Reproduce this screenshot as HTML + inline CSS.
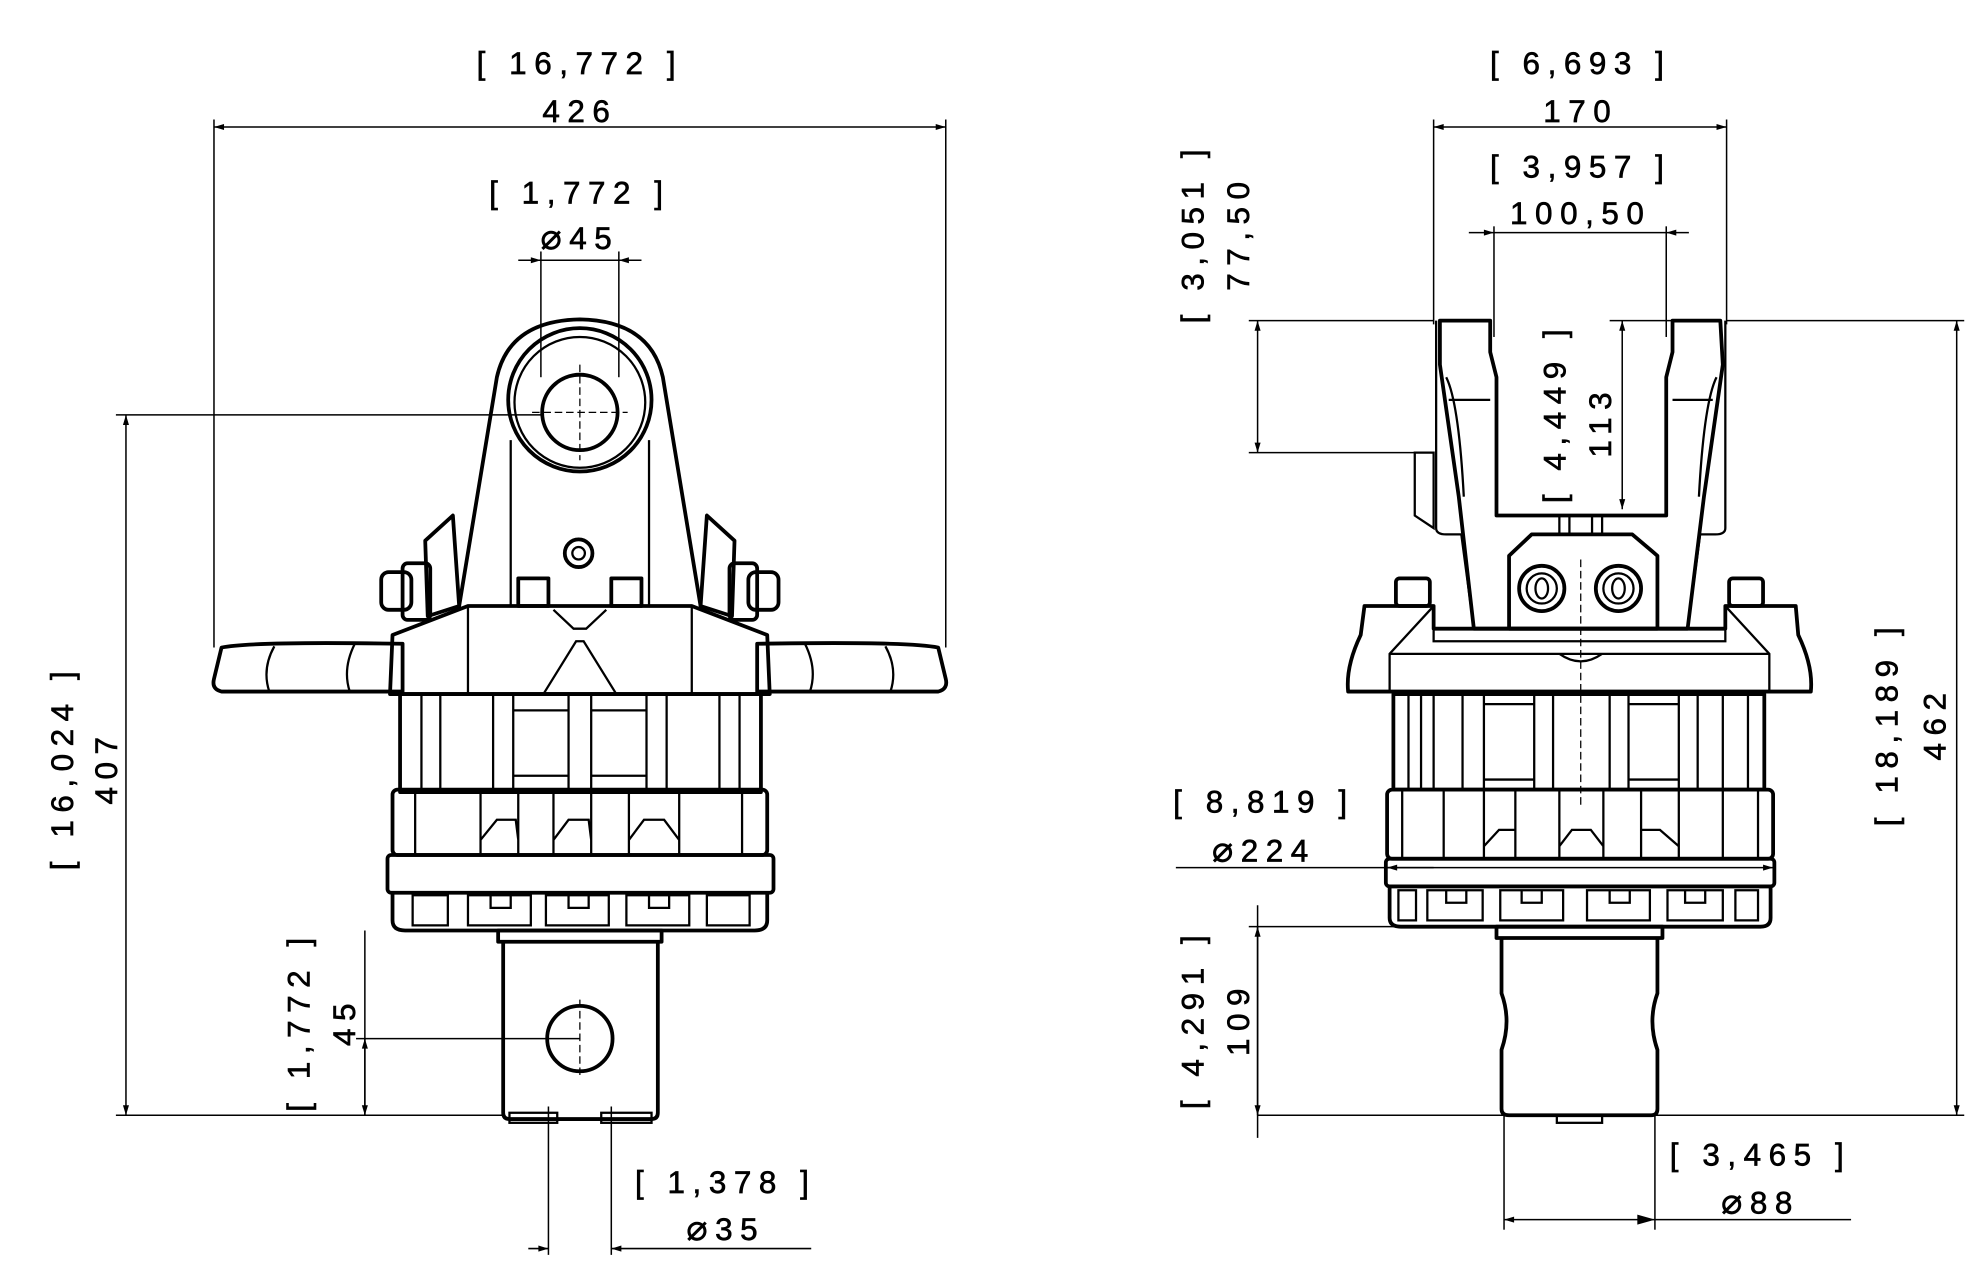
<!DOCTYPE html>
<html><head><meta charset="utf-8"><style>
html,body{margin:0;padding:0;background:#fff}
svg{display:block}
text{font-family:"Liberation Sans",sans-serif;font-size:25px;letter-spacing:6px;fill:#000;stroke:#000;stroke-width:0.5}
.dm{font-family:"DejaVu Sans",sans-serif;font-size:28px}
.o{fill:none;stroke:#000;stroke-width:3;stroke-linejoin:round}
.t{fill:none;stroke:#000;stroke-width:1.8}
.d{fill:none;stroke:#000;stroke-width:1.2}
.c{fill:none;stroke:#000;stroke-width:1;stroke-dasharray:6 3}
</style></head><body>
<svg width="1972" height="1280" viewBox="0 0 1568 1018" xmlns="http://www.w3.org/2000/svg">
<defs><marker id="a" viewBox="0 0 10 10" refX="10" refY="5" markerWidth="14" markerHeight="8" orient="auto-start-reverse" markerUnits="userSpaceOnUse"><path d="M0,2 L10,5 L0,8z" fill="#000"/></marker></defs>

<!-- ===== LEFT VIEW dims ===== -->
<text x="461" y="59" text-anchor="middle">[ 16,772 ]</text>
<text x="461" y="97" text-anchor="middle">426</text>
<line class="d" x1="170" y1="101" x2="752" y2="101" marker-start="url(#a)" marker-end="url(#a)"/>
<line class="d" x1="170" y1="95" x2="170" y2="515"/><line class="d" x1="752" y1="95" x2="752" y2="515"/>
<text x="461" y="162" text-anchor="middle">[ 1,772 ]</text>
<text x="461" y="198" text-anchor="middle"><tspan class="dm">⌀</tspan>45</text>
<line class="d" x1="412" y1="207" x2="430" y2="207" marker-end="url(#a)"/><line class="d" x1="510" y1="207" x2="492" y2="207" marker-end="url(#a)"/>
<line class="d" x1="430" y1="207" x2="492" y2="207"/>
<line class="d" x1="430" y1="200" x2="430" y2="300"/><line class="d" x1="492" y1="200" x2="492" y2="300"/>
<line class="d" x1="92" y1="330" x2="430" y2="330"/>
<line class="d" x1="92" y1="887" x2="400" y2="887"/>
<line class="d" x1="100" y1="330" x2="100" y2="887" marker-start="url(#a)" marker-end="url(#a)"/>
<text transform="translate(93,610) rotate(-90)" text-anchor="middle">407</text>
<text transform="translate(58,610) rotate(-90)" text-anchor="middle">[ 16,024 ]</text>
<line class="d" x1="283" y1="826" x2="461" y2="826"/>
<line class="d" x1="290" y1="740" x2="290" y2="887"/>
<line class="d" x1="290" y1="826" x2="290" y2="887" marker-start="url(#a)" marker-end="url(#a)"/>
<text transform="translate(282,812) rotate(-90)" text-anchor="middle">45</text>
<text transform="translate(246,812) rotate(-90)" text-anchor="middle">[ 1,772 ]</text>
<line class="d" x1="436" y1="880" x2="436" y2="998"/><line class="d" x1="486" y1="880" x2="486" y2="998"/>
<line class="d" x1="420" y1="993" x2="436" y2="993" marker-end="url(#a)"/><line class="d" x1="645" y1="993" x2="486" y2="993" marker-end="url(#a)"/>
<text x="577" y="949" text-anchor="middle">[ 1,378 ]</text>
<text x="577" y="986" text-anchor="middle"><tspan class="dm">⌀</tspan>35</text>

<!-- ===== LEFT VIEW body ===== -->
<path class="o" d="M365,482 L395,300 Q405,255 461,254 Q517,255 527,300 L557,482"/>
<circle class="o" cx="461" cy="318" r="57"/><circle class="t" cx="461" cy="320" r="52"/>
<circle class="o" cx="461" cy="328" r="30"/>
<line class="c" x1="461" y1="290" x2="461" y2="366"/><line class="c" x1="423" y1="328" x2="499" y2="328"/>
<line class="t" x1="406" y1="350" x2="406" y2="482"/><line class="t" x1="516" y1="350" x2="516" y2="482"/>
<circle class="o" cx="460" cy="440" r="11"/><circle class="t" cx="460" cy="440" r="5"/>
<rect class="o" x="412" y="460" width="24" height="22"/><rect class="o" x="486" y="460" width="24" height="22"/>
<path class="o" d="M338,430 L360,410 L365,482 L340,490 Z"/><path class="o" d="M584,430 L562,410 L557,482 L582,490 Z"/>
<rect class="o" x="303" y="455" width="24" height="30" rx="6"/><rect class="o" x="595" y="455" width="24" height="30" rx="6"/>
<rect class="o" x="320" y="448" width="22" height="45" rx="4"/><rect class="o" x="580" y="448" width="22" height="45" rx="4"/>
<path class="o" d="M176,515 Q200,510 320,512 L320,550 L176,550 Q168,548 170,540 Z"/>
<path class="o" d="M746,515 Q722,510 602,512 L602,550 L746,550 Q754,548 752,540 Z"/>
<path class="t" d="M218,514 Q208,532 214,550 M282,512 Q272,532 278,550 M704,514 Q714,532 708,550 M640,512 Q650,532 644,550"/>
<path class="o" d="M312,505 L372,482 L550,482 L610,505 L612,552 L310,552 Z"/>
<path class="t" d="M372,482 L372,552 M550,482 L550,552 M432,552 L458,510 L464,510 L490,552 M440,485 L456,500 L466,500 L482,485"/>
<rect class="o" x="318" y="552" width="287" height="78"/>
<path class="t" d="M335,552 V630 M350,552 V630 M392,552 V630 M408,552 V630 M452,552 V630 M470,552 V630 M514,552 V630 M530,552 V630 M572,552 V630 M588,552 V630 M408,565 H452 M408,617 H452 M470,565 H514 M470,617 H514"/>
<rect class="o" x="312" y="628" width="298" height="52" rx="4"/>
<path class="t" d="M330,628 V680 M382,628 V680 M412,628 V680 M440,628 V680 M470,628 V680 M500,628 V680 M540,628 V680 M590,628 V680 M382,668 L395,652 L410,652 L412,668 M440,668 L452,652 L468,652 L470,668 M500,668 L512,652 L528,652 L540,668"/>
<rect class="o" x="308" y="680" width="307" height="30" rx="3"/>
<path class="o" d="M312,710 L312,732 Q312,740 322,740 L600,740 Q610,740 610,732 L610,710"/>
<path class="t" d="M328,712 h28 v24 h-28 z M372,712 h50 v24 h-50 z M434,712 h50 v24 h-50 z M498,712 h50 v24 h-50 z M562,712 h34 v24 h-34 z M390,712 v10 h16 v-10 M452,712 v10 h16 v-10 M516,712 v10 h16 v-10"/>
<rect class="o" x="396" y="740" width="130" height="9"/>
<path class="o" d="M400,749 L400,885 Q400,890 405,890 L518,890 Q523,890 523,885 L523,749"/>
<rect class="t" x="405" y="885" width="38" height="8"/><rect class="t" x="478" y="885" width="40" height="8"/>
<circle class="o" cx="461" cy="826" r="26"/>
<line class="c" x1="461" y1="795" x2="461" y2="858"/>

<!-- ===== RIGHT VIEW dims ===== -->
<text x="1257" y="59" text-anchor="middle">[ 6,693 ]</text>
<text x="1257" y="97" text-anchor="middle">170</text>
<line class="d" x1="1140" y1="101" x2="1373" y2="101" marker-start="url(#a)" marker-end="url(#a)"/>
<line class="d" x1="1140" y1="95" x2="1140" y2="258"/><line class="d" x1="1373" y1="95" x2="1373" y2="258"/>
<text x="1257" y="141" text-anchor="middle">[ 3,957 ]</text>
<text x="1257" y="178" text-anchor="middle">100,50</text>
<line class="d" x1="1168" y1="185" x2="1188" y2="185" marker-end="url(#a)"/><line class="d" x1="1343" y1="185" x2="1325" y2="185" marker-end="url(#a)"/>
<line class="d" x1="1188" y1="185" x2="1325" y2="185"/>
<line class="d" x1="1188" y1="180" x2="1188" y2="268"/><line class="d" x1="1325" y1="180" x2="1325" y2="268"/>
<line class="d" x1="993" y1="255" x2="1140" y2="255"/>
<line class="d" x1="993" y1="360" x2="1125" y2="360"/>
<line class="d" x1="1000" y1="255" x2="1000" y2="360" marker-start="url(#a)" marker-end="url(#a)"/>
<text transform="translate(993,185) rotate(-90)" text-anchor="middle">77,50</text>
<text transform="translate(957,185) rotate(-90)" text-anchor="middle">[ 3,051 ]</text>
<line class="d" x1="1280" y1="255" x2="1330" y2="255"/>
<line class="d" x1="1290" y1="255" x2="1290" y2="405" marker-start="url(#a)" marker-end="url(#a)"/>
<text transform="translate(1281,335) rotate(-90)" text-anchor="middle">113</text>
<text transform="translate(1245,328) rotate(-90)" text-anchor="middle">[ 4,449 ]</text>
<line class="d" x1="1373" y1="255" x2="1562" y2="255"/>
<line class="d" x1="1000" y1="887" x2="1562" y2="887"/>
<line class="d" x1="1556" y1="255" x2="1556" y2="887" marker-start="url(#a)" marker-end="url(#a)"/>
<text transform="translate(1547,575) rotate(-90)" text-anchor="middle">462</text>
<text transform="translate(1509,575) rotate(-90)" text-anchor="middle">[ 18,189 ]</text>
<text x="1005" y="646" text-anchor="middle">[ 8,819 ]</text>
<text x="1005" y="685" text-anchor="middle"><tspan class="dm">⌀</tspan>224</text>
<line class="d" x1="935" y1="690" x2="1410" y2="690" marker-end="url(#a)"/>
<line class="d" x1="1103" y1="690" x2="1140" y2="690" marker-start="url(#a)"/>
<line class="d" x1="993" y1="737" x2="1120" y2="737"/>
<line class="d" x1="1000" y1="720" x2="1000" y2="905"/>
<line class="d" x1="1000" y1="737" x2="1000" y2="887" marker-start="url(#a)" marker-end="url(#a)"/>
<text transform="translate(993,810) rotate(-90)" text-anchor="middle">109</text>
<text transform="translate(957,810) rotate(-90)" text-anchor="middle">[ 4,291 ]</text>
<line class="d" x1="1196" y1="887" x2="1196" y2="978"/><line class="d" x1="1316" y1="887" x2="1316" y2="978"/>
<line class="d" x1="1196" y1="970" x2="1472" y2="970" marker-start="url(#a)"/>
<path d="M1316,970 l-14,-4 v8z" fill="#000"/>
<text x="1400" y="927" text-anchor="middle">[ 3,465 ]</text>
<text x="1400" y="965" text-anchor="middle"><tspan class="dm">⌀</tspan>88</text>

<!-- ===== RIGHT VIEW body ===== -->
<path class="o" d="M1145,255 L1185,255 L1185,280 L1190,300 L1190,410 L1325,410 L1325,300 L1330,280 L1330,255 L1368,255 L1370,290 L1355,395 L1342,500 L1172,500 L1160,395 L1145,290 Z"/>
<path class="t" d="M1150,300 Q1160,320 1164,395 M1365,300 Q1355,320 1351,395 M1152,318 H1185 M1330,318 H1362 M1142,255 V420 Q1142,425 1150,425 H1162 M1372,255 V420 Q1372,425 1364,425 H1352 M1162,425 L1172,500 M1352,425 L1342,500"/>
<path class="t" d="M1125,360 L1125,410 L1140,420 L1140,360 Z"/>
<path class="o" d="M1218,425 L1298,425 L1318,442 L1318,500 L1200,500 L1200,442 Z"/>
<path class="t" d="M1240,410 V425 M1274,410 V425 M1248,410 V425 M1266,410 V425"/>
<circle class="o" cx="1226" cy="468" r="18"/><circle class="t" cx="1226" cy="468" r="12"/><ellipse class="t" cx="1226" cy="468" rx="5" ry="8"/>
<circle class="o" cx="1287" cy="468" r="18"/><circle class="t" cx="1287" cy="468" r="12"/><ellipse class="t" cx="1287" cy="468" rx="5" ry="8"/>
<line class="c" x1="1257" y1="445" x2="1257" y2="640"/>
<rect class="o" x="1110" y="460" width="27" height="22" rx="3"/><rect class="o" x="1375" y="460" width="27" height="22" rx="3"/>
<path class="o" d="M1085,482 L1140,482 L1140,500 L1372,500 L1372,482 L1428,482 L1430,505 Q1442,530 1440,550 L1072,550 Q1070,530 1082,505 Z"/>
<path class="t" d="M1140,482 L1105,520 L1105,550 M1372,482 L1407,520 L1407,550 M1105,520 L1407,520 M1140,500 V510 H1372 V500 M1240,520 Q1257,532 1274,520"/>
<rect class="o" x="1108" y="552" width="295" height="76"/>
<path class="t" d="M1120,552 V628 M1130,552 V628 M1140,552 V628 M1163,552 V628 M1180,552 V628 M1220,552 V628 M1235,552 V628 M1280,552 V628 M1295,552 V628 M1335,552 V628 M1350,552 V628 M1370,552 V628 M1390,552 V628 M1180,560 H1220 M1180,620 H1220 M1295,560 H1335 M1295,620 H1335"/>
<rect class="o" x="1103" y="628" width="307" height="55" rx="4"/>
<path class="t" d="M1115,628 V683 M1148,628 V683 M1180,628 V683 M1205,628 V683 M1240,628 V683 M1275,628 V683 M1305,628 V683 M1335,628 V683 M1370,628 V683 M1398,628 V683 M1180,673 L1192,660 L1205,660 M1240,673 L1250,660 L1265,660 L1275,673 M1305,660 L1320,660 L1335,673"/>
<rect class="o" x="1102" y="683" width="309" height="22" rx="3"/>
<path class="o" d="M1105,705 L1105,730 Q1105,737 1114,737 L1400,737 Q1408,737 1408,730 L1408,705"/>
<path class="t" d="M1112,708 h14 v24 h-14 z M1135,708 h44 v24 h-44 z M1193,708 h50 v24 h-50 z M1262,708 h50 v24 h-50 z M1326,708 h44 v24 h-44 z M1380,708 h18 v24 h-18 z M1150,708 v10 h16 v-10 M1210,708 v10 h16 v-10 M1280,708 v10 h16 v-10 M1340,708 v10 h16 v-10"/>
<rect class="o" x="1190" y="737" width="132" height="9"/>
<path class="o" d="M1194,746 L1194,790 Q1202,812 1194,835 L1194,882 Q1194,887 1200,887 L1313,887 Q1318,887 1318,882 L1318,835 Q1310,812 1318,790 L1318,746"/>
<rect class="t" x="1238" y="887" width="36" height="6"/>
</svg>
</body></html>
